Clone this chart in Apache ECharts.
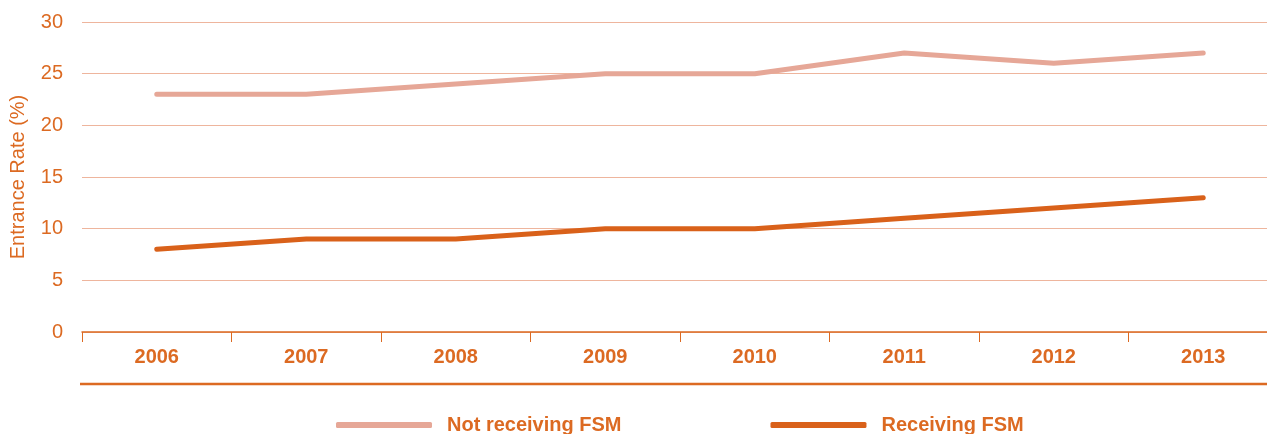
<!DOCTYPE html>
<html><head><meta charset="utf-8">
<script src="https://cdn.jsdelivr.net/npm/echarts@6/dist/echarts.min.js"></script>
<style>html,body{margin:0;padding:0;background:#fff;overflow:hidden}#c{width:1278px;height:434px}</style>
</head><body><div id="c"></div>
<script>
const years = ['2006','2007','2008','2009','2010','2011','2012','2013'];
const notReceiving = [23,23,24,25,25,27,26,27];
const receiving = [8,9,9,10,10,11,12,13];
const orange = '#dc6a22';
const chart = echarts.init(document.getElementById('c'));
chart.setOption({
  animation:false,
  grid:{left:82, top:22, right:0, height:310, containLabel:false},
  legend:{
    top:410, left:331, itemWidth:96, itemHeight:6, itemGap:149,
    icon:'roundRect',
    textStyle:{color:orange, fontSize:20, fontFamily:'Liberation Sans', fontWeight:'bold', padding:[0,0,0,10]},
    data:['Not receiving FSM','Receiving FSM']
  },
  xAxis:{
    type:'category', data:years, boundaryGap:true,
    axisLine:{lineStyle:{color:orange, width:1.5}},
    axisTick:{show:true, length:10, lineStyle:{color:orange}},
    axisLabel:{color:orange, fontSize:20, fontWeight:'bold', fontFamily:'Liberation Sans', margin:15}
  },
  yAxis:{
    type:'value', min:0, max:30, interval:5,
    name:'Entrance Rate (%)', nameLocation:'middle', nameGap:54, nameRotate:90,
    nameTextStyle:{color:orange, fontSize:20, fontFamily:'Liberation Sans'},
    axisLine:{show:false}, axisTick:{show:false},
    axisLabel:{color:orange, fontSize:20, fontFamily:'Liberation Sans', margin:19},
    splitLine:{lineStyle:{color:'#eeb59d', width:1}}
  },
  graphic:[{type:'line', shape:{x1:80, y1:384, x2:1278, y2:384}, style:{stroke:orange, lineWidth:2.5}}],
  series:[
    {name:'Not receiving FSM', type:'line', data:notReceiving, symbol:'none',
     lineStyle:{color:'#e6a797', width:5, cap:'round'}, itemStyle:{color:'#e6a797'}},
    {name:'Receiving FSM', type:'line', data:receiving, symbol:'none',
     lineStyle:{color:'#d9611a', width:5, cap:'round'}, itemStyle:{color:'#d9611a'}}
  ]
});
</script></body></html>
